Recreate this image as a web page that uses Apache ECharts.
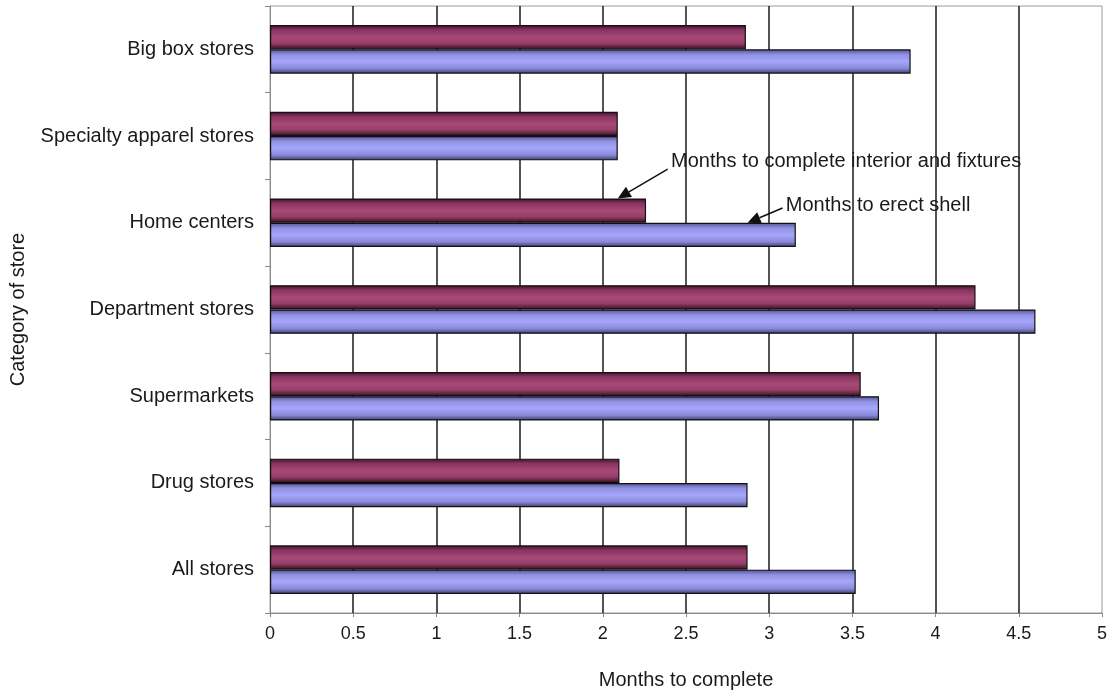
<!DOCTYPE html>
<html>
<head>
<meta charset="utf-8">
<script src="https://cdn.jsdelivr.net/npm/echarts@6/dist/echarts.min.js"></script>
<style>
  html, body { margin: 0; padding: 0; background: #ffffff; }
  #chart { width: 1110px; height: 692px; }
</style>
</head>
<body>
<div id="chart"></div>
<script>
// Store categories, top to bottom
const categories = [
  'Big box stores',
  'Specialty apparel stores',
  'Home centers',
  'Department stores',
  'Supermarkets',
  'Drug stores',
  'All stores'
];

// Months to complete interior and fixtures
const interiorMonths = [2.86, 2.09, 2.26, 4.24, 3.55, 2.10, 2.87];
// Months to erect shell
const shellMonths = [3.85, 2.09, 3.16, 4.60, 3.66, 2.87, 3.52];

const seriesNames = ['Months to complete interior and fixtures', 'Months to erect shell'];

// Callout notes: text anchor and arrow tip in data units (value, category, offset in bands)
const noteCategory = 'Home centers';
const noteText = seriesNames;
const noteTextX = [2.41, 3.10];
const noteTextBand = [-0.71, -0.20];
const noteTailX = [2.39, 3.08];
const noteTailBand = [-0.62, -0.17];
const noteTipX = [2.09, 2.87];

const FONT = '"Liberation Sans", Arial, Helvetica, sans-serif';
const TEXT = '#1a1a1a';

function grad(stops) {
  return new echarts.graphic.LinearGradient(0, 0, 0, 1,
    stops.map(s => ({ offset: s[0], color: s[1] })));
}

const maroon = grad([[0, '#3e1028'], [0.2, '#883460'], [0.5, '#a84a78'], [0.75, '#963e68'], [1, '#34101f']]);
const lavender = grad([[0, '#505094'], [0.22, '#9292e2'], [0.5, '#a6a6fc'], [0.78, '#8a8ad8'], [1, '#3c3c6e']]);

const chart = echarts.init(document.getElementById('chart'), null, { renderer: 'canvas' });

const option = {
  animation: false,
  backgroundColor: '#ffffff',
  textStyle: { fontFamily: FONT },
  grid: {
    left: 270, right: 8, top: 6, bottom: 79,
    outerBoundsMode: 'none',
    containLabel: false,
    show: true, borderColor: '#9a9a9a', borderWidth: 1
  },
  xAxis: {
    type: 'value',
    min: 0, max: 5, interval: 0.5,
    name: 'Months to complete',
    nameLocation: 'middle',
    nameGap: 57,
    nameTextStyle: { fontSize: 20, color: TEXT, fontFamily: FONT },
    axisLine: { show: true, lineStyle: { color: '#8a8a8a', width: 1 } },
    axisTick: { show: true, length: 4, lineStyle: { color: '#8a8a8a' } },
    axisLabel: { fontSize: 18, color: TEXT, margin: 12, fontFamily: FONT },
    splitLine: {
      show: true, showMinLine: false, showMaxLine: false,
      lineStyle: { color: '#1a1a1a', width: 1.5 }
    }
  },
  yAxis: {
    type: 'category',
    inverse: true,
    data: categories,
    name: 'Category of store',
    nameLocation: 'middle',
    nameRotate: 90,
    nameGap: 242,
    nameTextStyle: { fontSize: 20, color: TEXT, fontFamily: FONT },
    axisLine: { show: true, lineStyle: { color: '#8a8a8a', width: 1 } },
    axisTick: { show: true, length: 5, lineStyle: { color: '#8a8a8a' } },
    axisLabel: { fontSize: 20, color: TEXT, margin: 16, fontFamily: FONT }
  },
  series: [
    {
      name: seriesNames[0],
      type: 'bar',
      data: interiorMonths,
      barGap: '0%',
      barCategoryGap: '44%',
      itemStyle: { color: maroon, borderColor: '#111111', borderWidth: 1.2 }
    },
    {
      name: seriesNames[1],
      type: 'bar',
      data: shellMonths,
      barGap: '0%',
      barCategoryGap: '44%',
      itemStyle: { color: lavender, borderColor: '#111111', borderWidth: 1.2 }
    }
  ]
};

chart.setOption(option);

// Callout arrows, placed from data coordinates
function bandPx() {
  const a = chart.convertToPixel({ yAxisIndex: 0 }, categories[0]);
  const b = chart.convertToPixel({ yAxisIndex: 0 }, categories[1]);
  return Math.abs(b - a);
}

function drawNotes() {
  const band = bandPx();
  const barW = band * (1 - 0.44) / 2;
  const cy = chart.convertToPixel({ yAxisIndex: 0 }, noteCategory);
  // tips: top edge of the interior bar, then top edge of the shell bar
  const tipY = [cy - barW, cy];
  const elements = [];
  for (let i = 0; i < 2; i++) {
    const tx = chart.convertToPixel({ xAxisIndex: 0 }, noteTipX[i]);
    const ty = tipY[i];
    const sx = chart.convertToPixel({ xAxisIndex: 0 }, noteTailX[i]);
    const sy = cy + noteTailBand[i] * band;
    const ang = Math.atan2(ty - sy, tx - sx);
    const hl = 13, hw = 6;
    const bx = tx - hl * Math.cos(ang), by = ty - hl * Math.sin(ang);
    const px = -Math.sin(ang) * hw, py = Math.cos(ang) * hw;
    elements.push({
      type: 'line', silent: true,
      shape: { x1: sx, y1: sy, x2: bx, y2: by },
      style: { stroke: '#111111', lineWidth: 1.5 }
    });
    elements.push({
      type: 'polygon', silent: true,
      shape: { points: [[tx, ty], [bx + px, by + py], [bx - px, by - py]] },
      style: { fill: '#111111' }
    });
    elements.push({
      type: 'text', silent: true,
      x: chart.convertToPixel({ xAxisIndex: 0 }, noteTextX[i]),
      y: cy + noteTextBand[i] * band,
      style: {
        text: noteText[i], fill: TEXT, fontSize: 20, fontFamily: FONT,
        align: 'left', verticalAlign: 'middle'
      }
    });
  }
  chart.setOption({ graphic: { elements: elements } });
}

drawNotes();
</script>
</body>
</html>
